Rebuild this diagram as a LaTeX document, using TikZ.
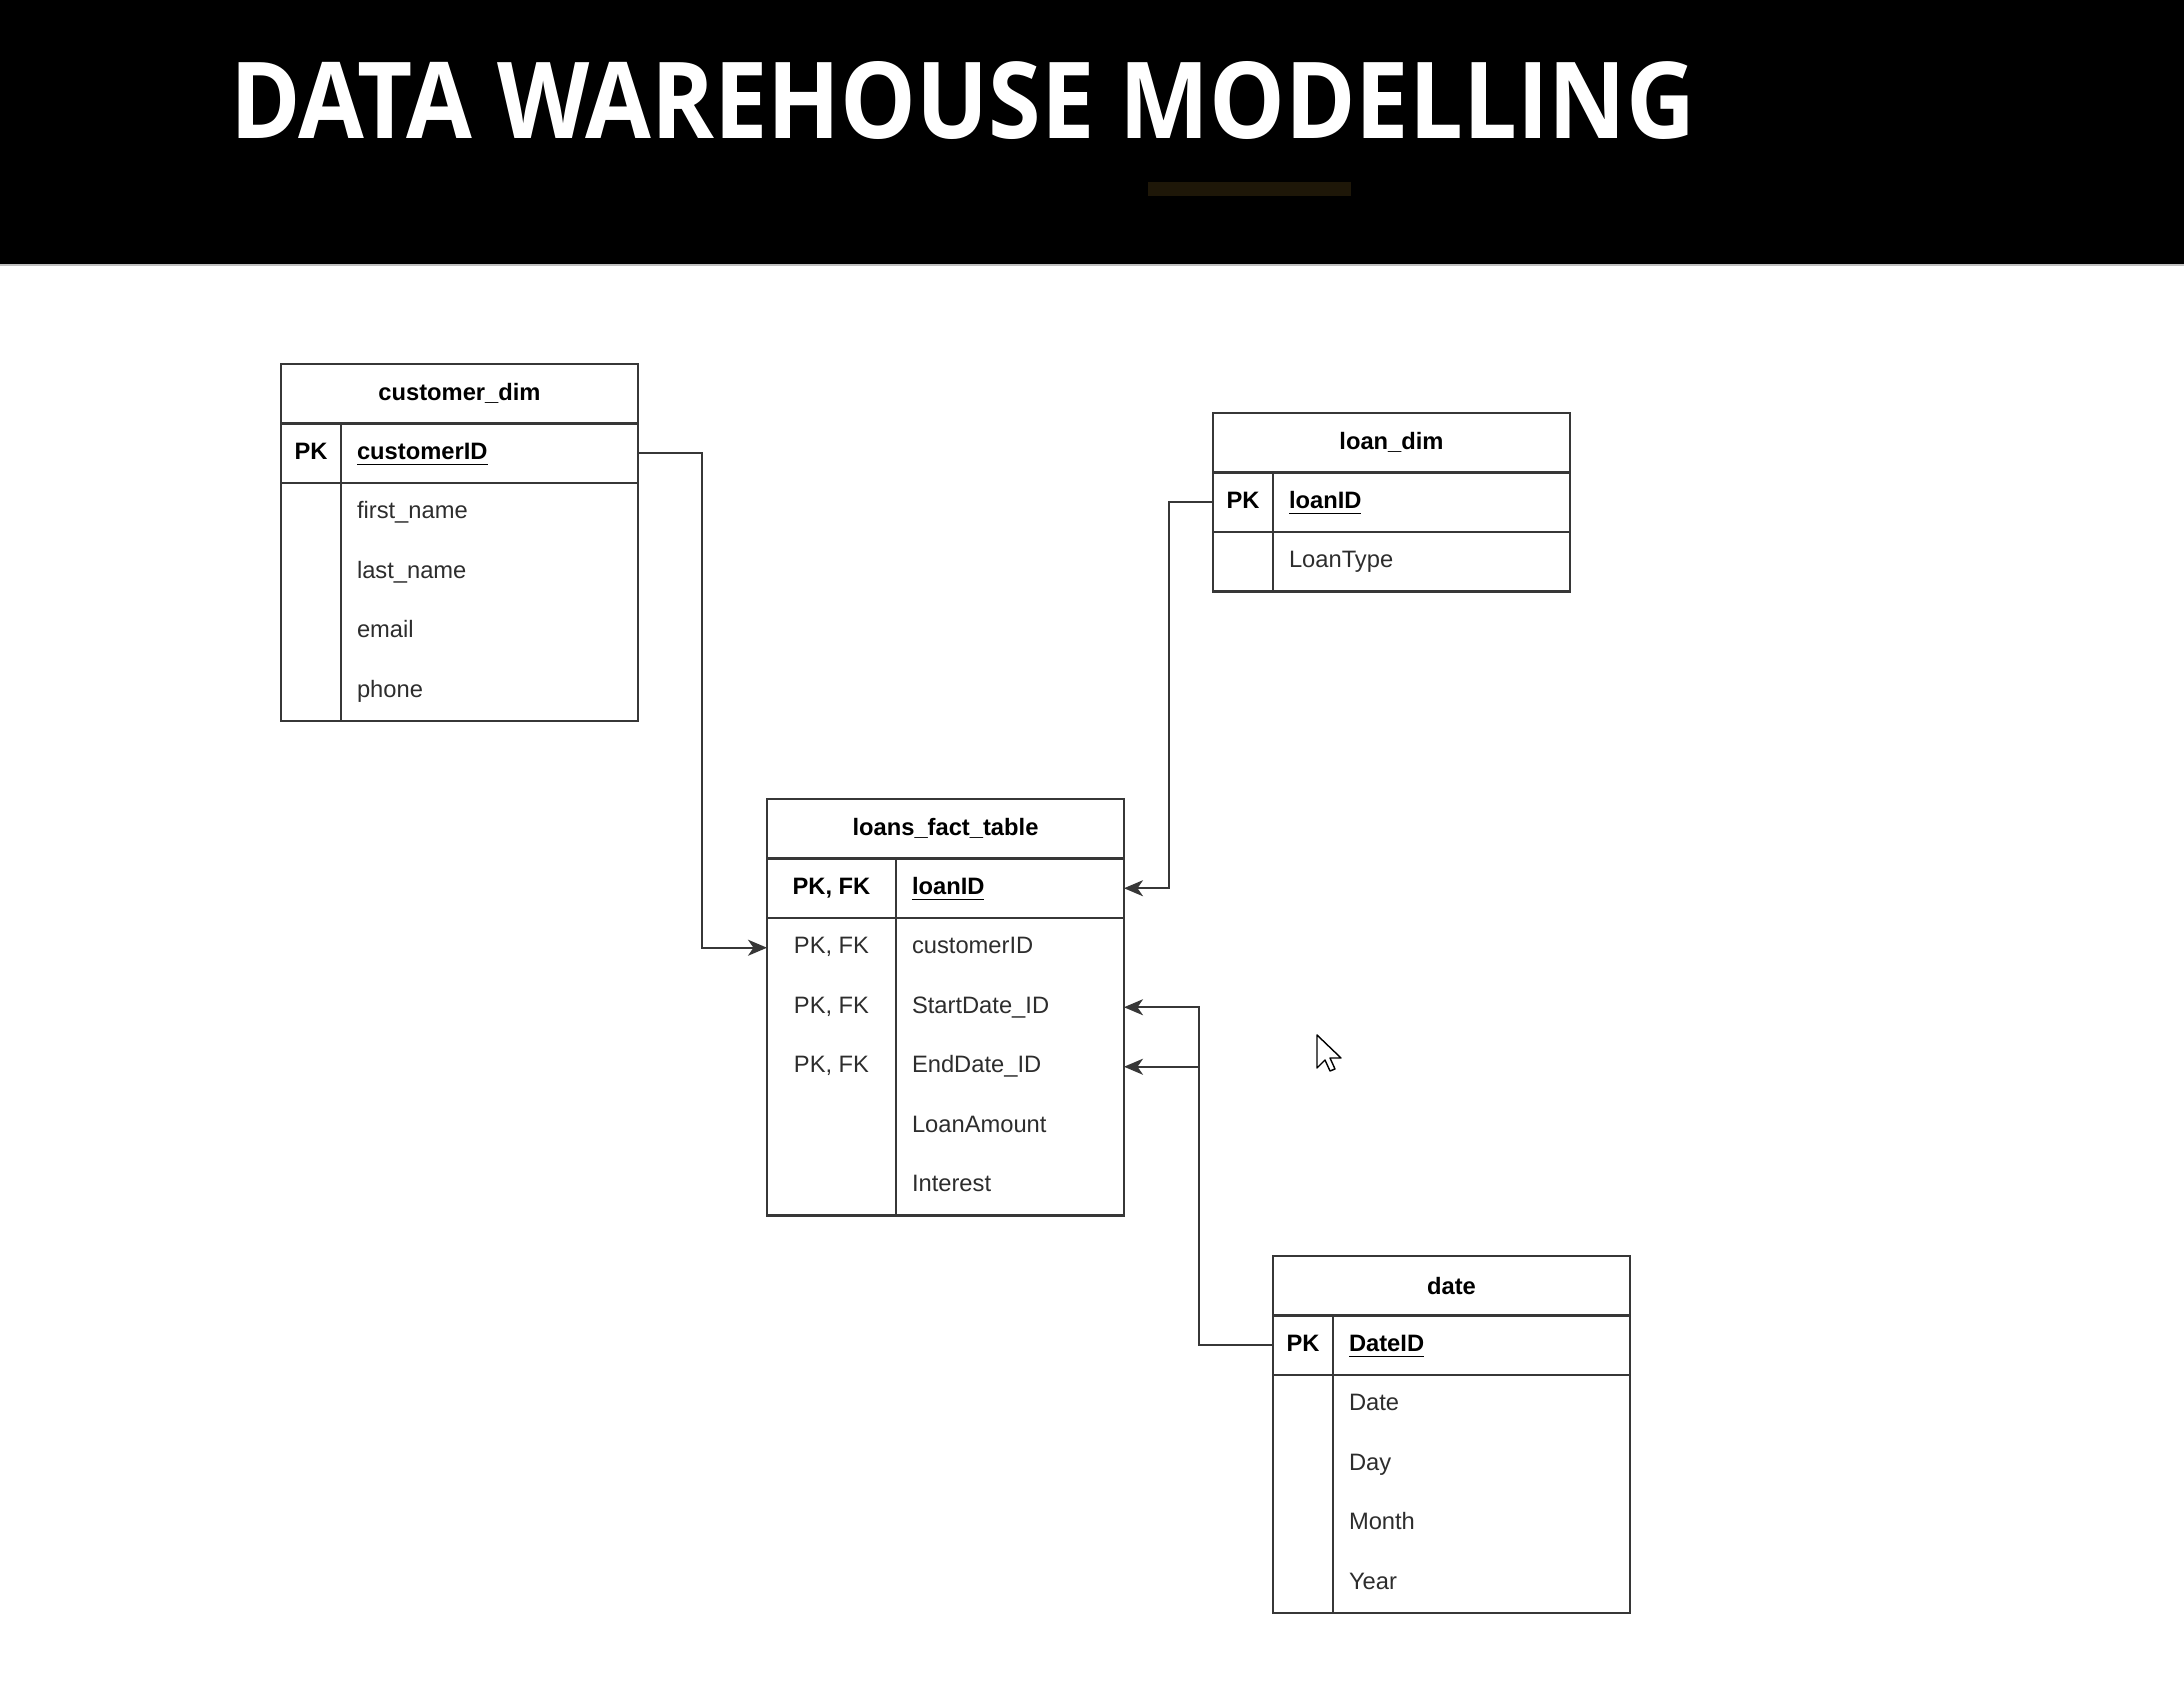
\documentclass[tikz,border=0pt]{standalone}
\usepackage{fontspec}
\setmainfont{Liberation Sans}
\newfontfamily\titlefont{Open Sans}
\usepackage{xcolor}
\usetikzlibrary{positioning}
\usetikzlibrary{calc,arrows.meta}

\definecolor{barbrown}{RGB}{30,23,8}
\definecolor{tblline}{RGB}{55,55,55}
\definecolor{fieldtext}{RGB}{45,45,45}

\begin{document}
\fontsize{6.75pt}{8pt}\selectfont
\begin{tikzpicture}[every node/.style={outer sep=0pt},
 tbl/.style={draw=tblline,line width=0.7pt},
 tblhead/.style={minimum width=3.57cm,minimum height=5.95mm,inner sep=0pt,font=\bfseries},
 keycell/.style={minimum width=#1,minimum height=5.95mm,inner sep=0pt,text height=1.75mm,text depth=0.5mm},
 fieldcell/.style={text width=#1,minimum height=5.95mm,inner ysep=0pt,inner xsep=1.6mm,align=left,
 text height=1.75mm,text depth=0.5mm,text=fieldtext},
 fk/.style={draw=tblline,line width=0.65pt,-{Stealth[length=1.9mm,width=1.6mm,inset=0.55mm]}}]

 \useasboundingbox (0,0) rectangle (21.84,-17.07);

 % title band
 \fill[black] (0,0) rectangle (21.84,-2.65);
 \draw[gray!50,line width=0.3pt] (0,-2.65) -- (21.84,-2.65);
 \fill[barbrown] (11.48,-1.82) rectangle (13.51,-1.96);
 \node[anchor=base west,inner sep=0pt,text=white] (title) at (2.30,-1.39)
  {\resizebox{14.65cm}{0.77cm}{\titlefont\bfseries DATA WAREHOUSE MODELLING}};

 % customer_dim
 \node[tblhead,anchor=north west] (cust) at (2.81,-3.64) {customer\_dim};
 \node[keycell=6mm,font=\bfseries,below=0pt of cust.south west,anchor=north west] (custk) {PK};
 \node[fieldcell=2.65cm,font=\bfseries,text=black,right=0pt of custk] (custpk) {\underline{customerID}};
 \foreach \f [count=\i, remember=\i as \j (initially pk)] in {first\_name,last\_name,email,phone}
  \node[fieldcell=2.65cm,below=0pt of cust\j] (cust\i) {\f};
 \draw[tbl] (cust.north west) rectangle (cust4.south east);
 \draw[tbl] (cust.south west) -- (cust.south east);
 \draw[tbl] (custk.south west) -- (custpk.south east);
 \draw[tbl] (custk.north east) -- (custk.north east |- cust4.south);

 % loans_fact_table
 \node[tblhead,anchor=north west] (fact) at (7.67,-7.99) {loans\_fact\_table};
 \node[keycell=1.29cm,font=\bfseries,below=0pt of fact.south west,anchor=north west] (factk) {PK, FK};
 \node[fieldcell=1.96cm,font=\bfseries,text=black,right=0pt of factk] (factpk) {\underline{loanID}};
 \foreach \f [count=\i, remember=\i as \j (initially pk)] in {customerID,StartDate\_ID,EndDate\_ID,LoanAmount,Interest}
  \node[fieldcell=1.96cm,below=0pt of fact\j] (fact\i) {\f};
 \foreach \i in {1,2,3}
  \node[keycell=1.29cm,text=fieldtext] (factk\i) at (fact\i -| factk) {PK, FK};
 \draw[tbl] (fact.north west) rectangle (fact5.south east);
 \draw[tbl] (fact.south west) -- (fact.south east);
 \draw[tbl] (factk.south west) -- (factpk.south east);
 \draw[tbl] (factk.north east) -- (factk.north east |- fact5.south);

 % loan_dim
 \node[tblhead,anchor=north west] (loan) at (12.13,-4.13) {loan\_dim};
 \node[keycell=6mm,font=\bfseries,below=0pt of loan.south west,anchor=north west] (loank) {PK};
 \node[fieldcell=2.65cm,font=\bfseries,text=black,right=0pt of loank] (loanpk) {\underline{loanID}};
 \node[fieldcell=2.65cm,below=0pt of loanpk] (loan1) {LoanType};
 \draw[tbl] (loan.north west) rectangle (loan1.south east);
 \draw[tbl] (loan.south west) -- (loan.south east);
 \draw[tbl] (loank.south west) -- (loanpk.south east);
 \draw[tbl] (loank.north east) -- (loank.north east |- loan1.south);

 % date
 \node[tblhead,anchor=north west] (dt) at (12.73,-12.56) {date};
 \node[keycell=6mm,font=\bfseries,below=0pt of dt.south west,anchor=north west] (dtk) {PK};
 \node[fieldcell=2.65cm,font=\bfseries,text=black,right=0pt of dtk] (dtpk) {\underline{DateID}};
 \foreach \f [count=\i, remember=\i as \j (initially pk)] in {Date,Day,Month,Year}
  \node[fieldcell=2.65cm,below=0pt of dt\j] (dt\i) {\f};
 \draw[tbl] (dt.north west) rectangle (dt4.south east);
 \draw[tbl] (dt.south west) -- (dt.south east);
 \draw[tbl] (dtk.south west) -- (dtpk.south east);
 \draw[tbl] (dtk.north east) -- (dtk.north east |- dt4.south);

 % keys
 \draw[fk] (custpk.east) -- ++(0.64,0) |- (factk1.west);
 \draw[fk] (loank.west) -- ++(-0.44,0) |- (factpk.east);
 \draw[fk] (dtk.west) -- ++(-0.74,0) coordinate (dtbend) |- (fact2.east);
 \draw[fk] (dtbend |- fact3.east) -- (fact3.east);

 % mouse pointer
 \begin{scope}[shift={(13.17,-10.35)},x=0.1mm,y=-0.1mm]
  \draw[fill=white,line width=0.4pt,line join=round] (0,0) -- (0,33) -- (8,25) -- (13,36)
   -- (18,34) -- (13,23) -- (24,23) -- cycle;
 \end{scope}

\end{tikzpicture}
\end{document}
